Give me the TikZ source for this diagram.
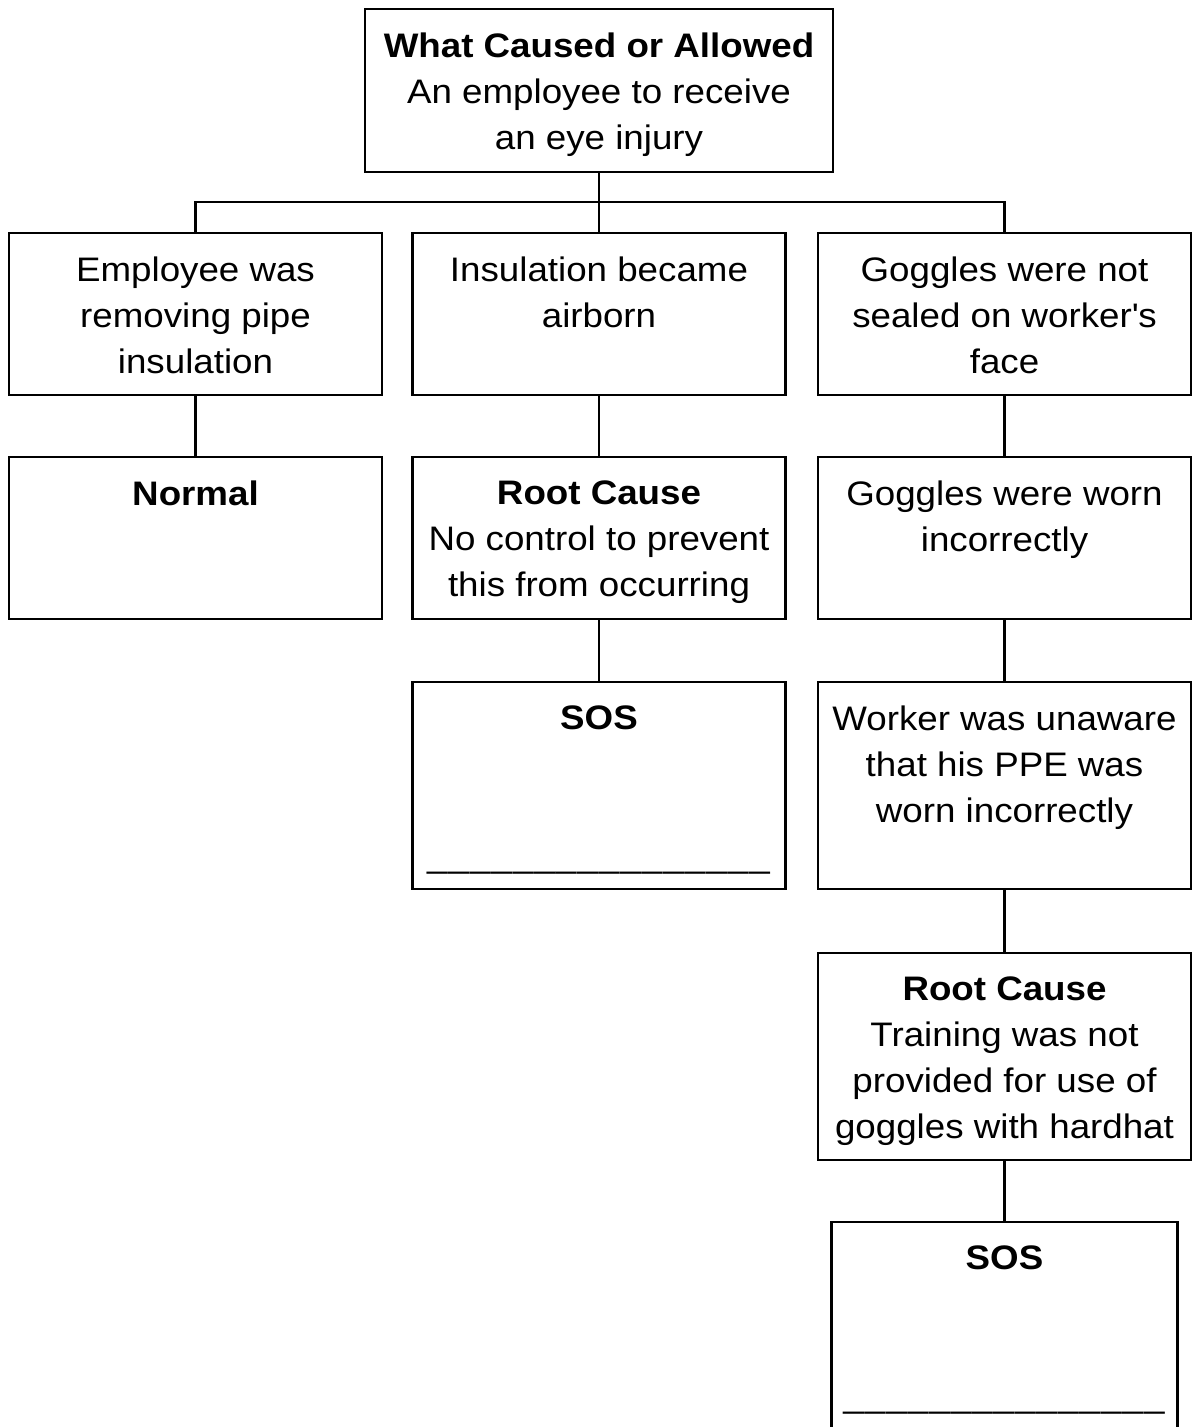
\documentclass[tikz,border=0pt]{standalone}
\usepackage{fontspec}
\setmainfont{Liberation Sans}[FakeStretch=1.08]
\usetikzlibrary{positioning}

\tikzset{
  box/.style={draw, line width=2.1pt, inner sep=0pt, outer sep=0pt, minimum width=279.75pt},
  short/.style={minimum height=121.5pt},
  tall/.style={minimum height=155.25pt},
  txt/.style={inner sep=0pt, outer sep=0pt, align=center, font=\fontsize{25.5pt}{34.5pt}\selectfont},
  link/.style={line width=2.1pt},
}
\newcommand\blankline[1]{\foreach \k in {1,...,#1}{\_\kern0.8pt}}

\begin{document}
\begin{tikzpicture}[x=0.75pt,y=0.75pt,yscale=-1,xscale=1]
\useasboundingbox (0,0) rectangle (1193,1427);

%Shape: top box
\node[box, minimum width=351pt, minimum height=122.25pt] (what) at (599,90.5) {};
%Shape: first row
\node[box, short] (cause1) at (195.5,314) {};
\node[box, short] (cause2) at (599,314) {};
\node[box, short] (cause3) at (1004.5,314) {};
%Shape: second row
\node[box, short] (normal) at (195.5,538) {};
\node[box, short] (root1) at (599,538) {};
\node[box, short] (worn) at (1004.5,538) {};
%Shape: third row
\node[box, tall] (sos1) at (599,785.5) {};
\node[box, tall] (unaware) at (1004.5,785.5) {};
%Shape: right column
\node[box, tall] (root2) at (1004.5,1056.5) {};
\node[box, tall, minimum width=259.5pt] (sos2) at (1004.5,1325.5) {};

% Text Node
\node[txt, below=17.8pt of what.north] (what-t) {\textbf{What Caused or Allowed}\\An employee to receive\\an eye injury};
% Text Node
\node[txt, below=17.8pt of cause1.north] (cause1-t) {Employee was\\removing pipe\\insulation};
\node[txt, below=17.8pt of cause2.north] (cause2-t) {Insulation became\\airborn};
\node[txt, below=17.8pt of cause3.north] (cause3-t) {Goggles were not\\sealed on worker\textquotesingle s\\face};
% Text Node
\node[txt, below=17.8pt of normal.north] (normal-t) {\textbf{Normal}};
\node[txt, below=17.8pt of root1.north] (root1-t) {\textbf{Root Cause}\\No control to prevent\\this from occurring};
\node[txt, below=17.8pt of worn.north] (worn-t) {Goggles were worn\\incorrectly};
% Text Node
\node[txt, below=17.8pt of sos1.north] (sos1-t) {\textbf{SOS}\\ \\ \\ \blankline{16}};
\node[txt, below=17.8pt of unaware.north] (unaware-t) {Worker was unaware\\that his PPE was\\worn incorrectly};
% Text Node
\node[txt, below=17.8pt of root2.north] (root2-t) {\textbf{Root Cause}\\Training was not\\provided for use of\\goggles with hardhat};
\node[txt, below=17.8pt of sos2.north] (sos2-t) {\textbf{SOS}\\ \\ \\ \blankline{15}};

% connectors
\coordinate (bus) at (599,202);
\draw[link] (what) -- (bus);
\draw[link] (cause1.north) -- (cause1.north |- bus) -- (cause3.north |- bus) -- (cause3.north);
\draw[link] (bus) -- (cause2);
\draw[link] (cause1) -- (normal);
\draw[link] (cause2) -- (root1);
\draw[link] (root1) -- (sos1);
\draw[link] (cause3) -- (worn);
\draw[link] (worn) -- (unaware);
\draw[link] (unaware) -- (root2);
\draw[link] (root2) -- (sos2);

\end{tikzpicture}
\end{document}
